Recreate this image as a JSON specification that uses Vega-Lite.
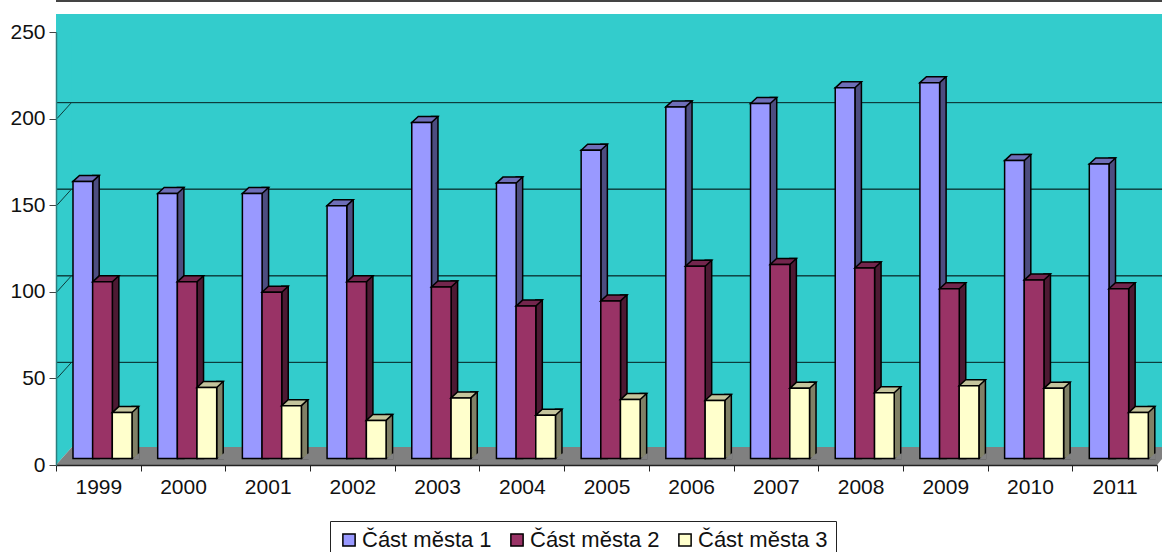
{
"$schema":"https://vega.github.io/schema/vega-lite/v6.json",
"width":1101,"height":433,"autosize":{"type":"none"},
"padding":{"left":56,"top":32,"right":5,"bottom":87},
"background":"white",
"config":{"view":{"stroke":null},"font":"Liberation Sans"},
"data":{"values":[
{"year":"1999","part":"Část města 1","value":160},{"year":"2000","part":"Část města 1","value":153},{"year":"2001","part":"Část města 1","value":153},{"year":"2002","part":"Část města 1","value":146},{"year":"2003","part":"Část města 1","value":194},{"year":"2004","part":"Část města 1","value":159},{"year":"2005","part":"Část města 1","value":178},{"year":"2006","part":"Část města 1","value":203},{"year":"2007","part":"Část města 1","value":205},{"year":"2008","part":"Část města 1","value":214},{"year":"2009","part":"Část města 1","value":217},{"year":"2010","part":"Část města 1","value":172},{"year":"2011","part":"Část města 1","value":170},
{"year":"1999","part":"Část města 2","value":102},{"year":"2000","part":"Část města 2","value":102},{"year":"2001","part":"Část města 2","value":96},{"year":"2002","part":"Část města 2","value":102},{"year":"2003","part":"Část města 2","value":99},{"year":"2004","part":"Část města 2","value":88},{"year":"2005","part":"Část města 2","value":91},{"year":"2006","part":"Část města 2","value":111},{"year":"2007","part":"Část města 2","value":112},{"year":"2008","part":"Část města 2","value":110},{"year":"2009","part":"Část města 2","value":98},{"year":"2010","part":"Část města 2","value":103},{"year":"2011","part":"Část města 2","value":98},
{"year":"1999","part":"Část města 3","value":26.5},{"year":"2000","part":"Část města 3","value":41},{"year":"2001","part":"Část města 3","value":30.5},{"year":"2002","part":"Část města 3","value":22},{"year":"2003","part":"Část města 3","value":35},{"year":"2004","part":"Část města 3","value":25},{"year":"2005","part":"Část města 3","value":34},{"year":"2006","part":"Část města 3","value":33.5},{"year":"2007","part":"Část města 3","value":40.5},{"year":"2008","part":"Část města 3","value":38},{"year":"2009","part":"Část města 3","value":42},{"year":"2010","part":"Část města 3","value":40.5},{"year":"2011","part":"Část města 3","value":26.5}
]},
"encoding":{
"x":{"field":"year","type":"ordinal","title":null,"scale":{"paddingInner":0,"paddingOuter":0},"axis":{"tickBand":"extent","labelAngle":0,"labelFont":"Liberation Sans","labelFontSize":21,"labelColor":"#111","labelPadding":5,"tickColor":"#222","tickSize":6,"domainColor":"#222","domainWidth":1.5,"zindex":1}},
"y":{"field":"value","type":"quantitative","title":null,"scale":{"domain":[0,250],"nice":false},"axis":{"values":[0,50,100,150,200,250],"grid":false,"labelFont":"Liberation Sans","labelFontSize":21,"labelColor":"#111","labelPadding":4,"tickColor":"#444","tickSize":7,"domainColor":"#2a7f7f","domainWidth":1.5,"zindex":1}}
},
"layer":[
{"data":{"values":[{"low":0,"high":250}]},"mark":{"type":"rect","fill":"#33CCCC","xOffset":16,"x2Offset":16,"yOffset":-18,"y2Offset":-18},"encoding":{"x":null,"y":{"field":"low","type":"quantitative"},"y2":{"field":"high"}}},
{"data":{"values":[{"year":"1999","low":0}]},"mark":{"type":"point","filled":true,"opacity":1,"fill":"#33CCCC","stroke":null,"size":400,"shape":"M-4.235,0L-4.235,-43.3L-2.635,-45.1L-2.635,-1.8Z"},"encoding":{"y":{"field":"low","type":"quantitative"}}},
{"data":{"values":[{"year":"1999","low":0}]},"mark":{"type":"point","filled":true,"opacity":1,"fill":"#808080","stroke":null,"size":400,"shape":"M-4.235,0L-2.635,-1.8L107.365,-1.8L105.865,0Z"},"encoding":{"y":{"field":"low","type":"quantitative"}}},
{"data":{"values":[{"level":50},{"level":100},{"level":150},{"level":200}]},"mark":{"type":"rect","stroke":"#0d3b3b","strokeWidth":1,"xOffset":16,"x2Offset":16,"yOffset":-16,"y2Offset":-16},"encoding":{"x":null,"y":{"field":"level","type":"quantitative"},"y2":{"field":"level"}}},
{"data":{"values":[{"year":"1999","level":50},{"year":"1999","level":100},{"year":"1999","level":150},{"year":"1999","level":200}]},"mark":{"type":"point","filled":false,"opacity":1,"stroke":"#0d3b3b","strokeWidth":1,"size":400,"shape":"M-4.135,0L-2.735,-1.55"},"encoding":{"y":{"field":"level","type":"quantitative"}}},
{"data":{"values":[{"level":250}]},"mark":{"type":"rect","stroke":"#444","strokeWidth":2,"xOffset":5,"x2Offset":-56,"yOffset":-31,"y2Offset":-31},"encoding":{"x":null,"y":{"field":"level","type":"quantitative"},"y2":{"field":"level"}}},

{"transform":[{"filter":"datum.part==='Část města 1'"}],"mark":{"type":"bar","width":6.5,"xOffset":-2.4,"yOffset":-12.5,"y2Offset":-6.5,"fill":"#4D4D80","stroke":"black","strokeWidth":1.5},"encoding":{"y2":{"datum":0}}},
{"transform":[{"filter":"datum.part==='Část města 1'"}],"mark":{"type":"point","filled":true,"opacity":1,"fill":"#6E6EB8","stroke":"black","strokeWidth":1.5,"size":400,"yOffset":-6.5,"xOffset":-15.5,"shape":"M-0.985,0L-0.335,-0.6L1.635,-0.6L0.985,0Z"}},
{"transform":[{"filter":"datum.part==='Část města 1'"}],"mark":{"type":"bar","width":19.7,"xOffset":-15.5,"yOffset":-6.5,"y2Offset":-6.5,"stroke":"black","strokeWidth":1.5},"encoding":{"y2":{"datum":0},"color":{"field":"part","type":"nominal","title":null,"scale":{"domain":["Část města 1","Část města 2","Část města 3"],"range":["#9999FF","#993366","#FFFFCC"]},"legend":{"orient":"none","legendX":274,"legendY":489,"direction":"horizontal","columns":3,"padding":8,"strokeColor":"#222","fillColor":"white","symbolType":"square","symbolSize":150,"symbolStrokeColor":"black","symbolStrokeWidth":1.5,"labelFont":"Liberation Sans","labelFontSize":22,"labelColor":"#111","labelLimit":300,"columnPadding":14,"labelOffset":2}}}},

{"transform":[{"filter":"datum.part==='Část města 2'"}],"mark":{"type":"bar","width":6.5,"xOffset":17.25,"yOffset":-12.5,"y2Offset":-6.5,"fill":"#4D1A33","stroke":"black","strokeWidth":1.5},"encoding":{"y2":{"datum":0}}},
{"transform":[{"filter":"datum.part==='Část města 2'"}],"mark":{"type":"point","filled":true,"opacity":1,"fill":"#73264D","stroke":"black","strokeWidth":1.5,"size":400,"yOffset":-6.5,"xOffset":4.15,"shape":"M-0.985,0L-0.335,-0.6L1.635,-0.6L0.985,0Z"}},
{"transform":[{"filter":"datum.part==='Část města 2'"}],"mark":{"type":"bar","width":19.7,"xOffset":4.15,"yOffset":-6.5,"y2Offset":-6.5,"stroke":"black","strokeWidth":1.5},"encoding":{"y2":{"datum":0},"color":{"field":"part","type":"nominal"}}},

{"transform":[{"filter":"datum.part==='Část města 3'"}],"mark":{"type":"bar","width":6.5,"xOffset":36.9,"yOffset":-12.5,"y2Offset":-6.5,"fill":"#808066","stroke":"black","strokeWidth":1.5},"encoding":{"y2":{"datum":0}}},
{"transform":[{"filter":"datum.part==='Část města 3'"}],"mark":{"type":"point","filled":true,"opacity":1,"fill":"#C4C49C","stroke":"black","strokeWidth":1.5,"size":400,"yOffset":-6.5,"xOffset":23.8,"shape":"M-0.985,0L-0.335,-0.6L1.635,-0.6L0.985,0Z"}},
{"transform":[{"filter":"datum.part==='Část města 3'"}],"mark":{"type":"point","filled":true,"opacity":1,"fill":"#808080","stroke":null,"size":400,"yOffset":-5.5,"xOffset":23.8,"shape":"M0.985,0L1.75,0L1.75,-0.6L1.635,-0.6Z"},"encoding":{"y":{"datum":0}}},
{"transform":[{"filter":"datum.part==='Část města 3'"}],"mark":{"type":"bar","width":19.7,"xOffset":23.8,"yOffset":-6.5,"y2Offset":-6.5,"stroke":"black","strokeWidth":1.5},"encoding":{"y2":{"datum":0},"color":{"field":"part","type":"nominal"}}}
]
}
